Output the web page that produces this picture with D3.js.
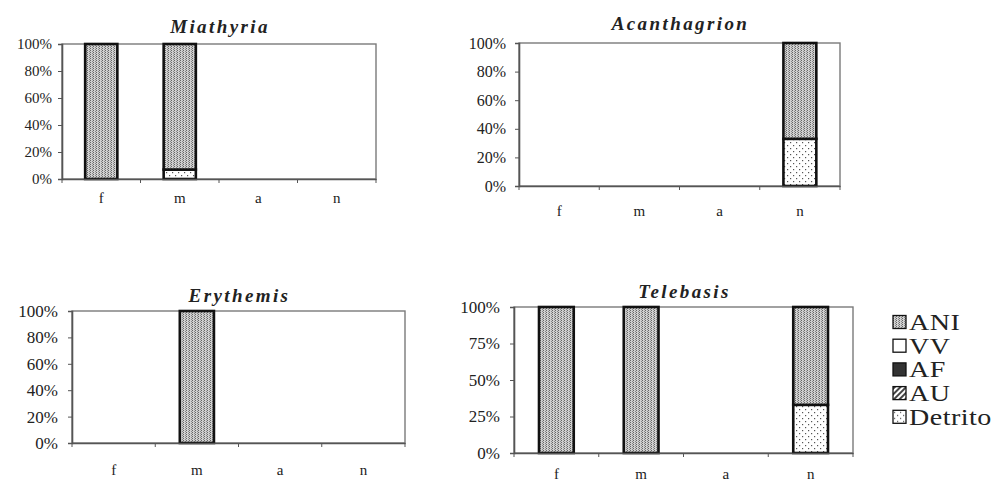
<!DOCTYPE html>
<html>
<head>
<meta charset="utf-8">
<script src="https://cdn.jsdelivr.net/npm/d3@7"></script>
<style>
  html, body { margin: 0; padding: 0; background: #fff; }
  svg { display: block; }
  text { font-family: "Liberation Serif", "Times New Roman", serif; fill: #222; }
</style>
</head>
<body>
<svg id="chart" width="1006" height="482"></svg>
<script>
// Life stages on the x axis and diet categories stacked in each column (percent)
const categories = ["f", "m", "a", "n"];
const seriesNames = ["ANI", "VV", "AF", "AU", "Detrito"];
const stackOrder = ["Detrito", "AU", "AF", "VV", "ANI"];   // bottom to top

const noValues = [0, 0, 0, 0];

const miathyriaANI = [100, 93, 0, 0];
const miathyriaDetrito = [0, 7, 0, 0];

const acanthagrionANI = [0, 0, 0, 67];
const acanthagrionDetrito = [0, 0, 0, 33];

const erythemisANI = [0, 100, 0, 0];
const erythemisDetrito = [0, 0, 0, 0];

const telebasisANI = [100, 100, 0, 67];
const telebasisDetrito = [0, 0, 0, 33];

const ticksBy20 = [0, 20, 40, 60, 80, 100];
const ticksBy25 = [0, 25, 50, 75, 100];

const panels = [
  { title: "Miathyria", ANI: miathyriaANI, VV: noValues, AF: noValues, AU: noValues, Detrito: miathyriaDetrito,
    ticks: ticksBy20, left: 62, right: 376, top: 44, bottom: 179, tickFont: 15, tickPad: 6, labelGap: 24, titleY: 33 },
  { title: "Acanthagrion", ANI: acanthagrionANI, VV: noValues, AF: noValues, AU: noValues, Detrito: acanthagrionDetrito,
    ticks: ticksBy20, left: 519, right: 840, top: 43, bottom: 186, tickFont: 16, tickPad: 9, labelGap: 30, titleY: 30 },
  { title: "Erythemis", ANI: erythemisANI, VV: noValues, AF: noValues, AU: noValues, Detrito: erythemisDetrito,
    ticks: ticksBy20, left: 72, right: 405, top: 311, bottom: 443, tickFont: 17, tickPad: 10, labelGap: 32, titleY: 302 },
  { title: "Telebasis", ANI: telebasisANI, VV: noValues, AF: noValues, AU: noValues, Detrito: telebasisDetrito,
    ticks: ticksBy25, left: 514, right: 853, top: 307, bottom: 453, tickFont: 17, tickPad: 10, labelGap: 26, titleY: 298 }
];

const svg = d3.select("#chart");
const defs = svg.append("defs");

// Fill patterns for each diet category
const pAni = defs.append("pattern").attr("id", "fill-ANI").attr("patternUnits", "userSpaceOnUse")
  .attr("width", 3).attr("height", 2);
pAni.append("rect").attr("width", 3).attr("height", 2).attr("fill", "#d0d0d0");
pAni.append("rect").attr("x", 0).attr("y", 0).attr("width", 1).attr("height", 1).attr("fill", "#666");
pAni.append("rect").attr("x", 2).attr("y", 1).attr("width", 1).attr("height", 1).attr("fill", "#888");

const pDet = defs.append("pattern").attr("id", "fill-Detrito").attr("patternUnits", "userSpaceOnUse")
  .attr("width", 6).attr("height", 6);
pDet.append("rect").attr("width", 6).attr("height", 6).attr("fill", "#fff");
pDet.append("rect").attr("x", 1).attr("y", 1).attr("width", 1.2).attr("height", 1.2).attr("fill", "#555");
pDet.append("rect").attr("x", 4).attr("y", 4).attr("width", 1.2).attr("height", 1.2).attr("fill", "#555");

const pAu = defs.append("pattern").attr("id", "fill-AU").attr("patternUnits", "userSpaceOnUse")
  .attr("width", 4).attr("height", 4).attr("patternTransform", "rotate(45)");
pAu.append("rect").attr("width", 4).attr("height", 4).attr("fill", "#fff");
pAu.append("rect").attr("width", 2).attr("height", 4).attr("fill", "#444");

const fills = { ANI: "url(#fill-ANI)", VV: "#fff", AF: "#333", AU: "url(#fill-AU)", Detrito: "url(#fill-Detrito)" };

panels.forEach(p => {
  const g = svg.append("g");
  const x = d3.scaleBand().domain(categories).range([p.left, p.right]);
  const y = d3.scaleLinear().domain([0, 100]).range([p.bottom, p.top]);

  const rows = categories.map((c, i) => {
    const r = { cat: c };
    seriesNames.forEach(s => { r[s] = p[s][i]; });
    return r;
  });
  const layers = d3.stack().keys(stackOrder)(rows);

  // plot frame
  g.append("rect")
    .attr("x", p.left).attr("y", p.top)
    .attr("width", p.right - p.left).attr("height", p.bottom - p.top)
    .attr("fill", "#fff").attr("stroke", "#7a7a7a").attr("stroke-width", 1.4);

  // stacked columns
  const barW = x.bandwidth() * 0.41;
  layers.forEach(layer => {
    g.selectAll(null)
      .data(layer.filter(d => d[1] - d[0] > 0))
      .join("rect")
      .attr("x", d => x(d.data.cat) + (x.bandwidth() - barW) / 2)
      .attr("y", d => y(d[1]))
      .attr("width", barW)
      .attr("height", d => y(d[0]) - y(d[1]))
      .attr("fill", fills[layer.key])
      .attr("stroke", "#111")
      .attr("stroke-width", 2.6);
  });

  // y axis
  const ya = g.append("g").attr("transform", `translate(${p.left},0)`)
    .call(d3.axisLeft(y).tickValues(p.ticks).tickFormat(d => d + "%").tickSize(4).tickPadding(p.tickPad));
  ya.select(".domain").attr("stroke", "#555").attr("stroke-width", 1.6);
  ya.selectAll(".tick line").attr("stroke", "#555");
  ya.selectAll(".tick text").style("font-family", "Liberation Serif, serif")
    .style("font-size", p.tickFont + "px").attr("fill", "#222");

  // x axis: labels under each category, tick marks on category boundaries
  const xa = g.append("g").attr("transform", `translate(0,${p.bottom})`)
    .call(d3.axisBottom(x).tickSize(0).tickPadding(p.labelGap - 11));
  xa.select(".domain").attr("stroke", "#555").attr("stroke-width", 1.6);
  xa.selectAll(".tick text").style("font-family", "Liberation Serif, serif")
    .style("font-size", "15px").attr("fill", "#222");
  g.selectAll(null)
    .data(d3.range(categories.length + 1))
    .join("line")
    .attr("x1", i => p.left + i * x.step()).attr("x2", i => p.left + i * x.step())
    .attr("y1", p.bottom).attr("y2", p.bottom + 4)
    .attr("stroke", "#555");

  // panel title
  g.append("text")
    .attr("x", (p.left + p.right) / 2 + 1)
    .attr("y", p.titleY)
    .attr("text-anchor", "middle")
    .style("font-size", "19px").style("font-weight", "bold").style("font-style", "italic")
    .style("letter-spacing", "2.4px")
    .text(p.title);
});

// legend
const legend = svg.append("g").attr("transform", "translate(893,322)");
seriesNames.forEach((s, i) => {
  const row = legend.append("g").attr("transform", `translate(0,${i * 23.7})`);
  row.append("rect").attr("x", 0).attr("y", -6.5).attr("width", 13).attr("height", 13)
    .attr("fill", fills[s]).attr("stroke", "#111").attr("stroke-width", 1.3);
  row.append("text").attr("transform", "translate(16,8) scale(1.22,1)")
    .style("font-size", "23px").style("letter-spacing", "0.4px").text(s);
});
</script>
</body>
</html>
